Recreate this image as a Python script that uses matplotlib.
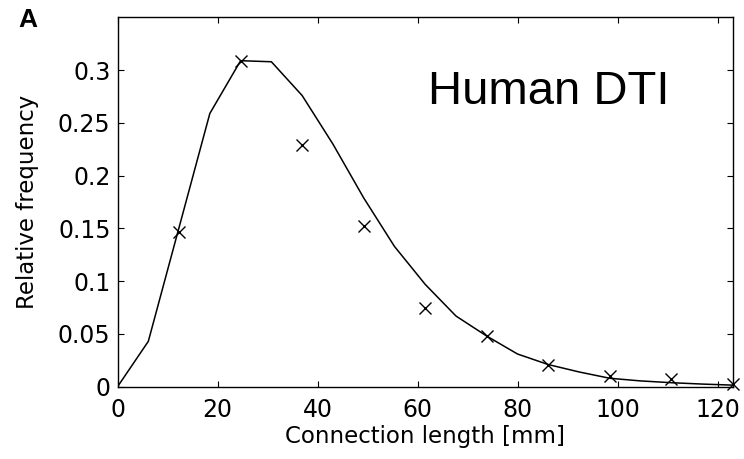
import matplotlib
matplotlib.use("Agg")
import matplotlib.pyplot as plt
from matplotlib.ticker import FuncFormatter

# model curve (line) and measured histogram (crosses)
curve_x = [0, 6.15, 12.3, 18.45, 24.6, 30.75, 36.9, 43.05, 49.2, 55.35, 61.5,
           67.65, 73.8, 79.95, 86.1, 92.25, 98.4, 104.55, 110.7, 116.85, 123.0]
curve_y = [0.0, 0.043, 0.151, 0.259, 0.309, 0.308, 0.276, 0.230, 0.179, 0.133, 0.097,
           0.067, 0.048, 0.031, 0.021, 0.014, 0.008, 0.0055, 0.0038, 0.0025, 0.0015]

data_x = [12.3, 24.6, 36.9, 49.2, 61.5, 73.8, 86.1, 98.4, 110.7, 123.0]
data_y = [0.147, 0.309, 0.229, 0.152, 0.0745, 0.0485, 0.0205, 0.0102, 0.0073, 0.0023]

xticks = [0, 20, 40, 60, 80, 100, 120]
yticks = [0, 0.05, 0.1, 0.15, 0.2, 0.25, 0.3]

fig = plt.figure(figsize=(7.44, 4.59), dpi=100)
ax = fig.add_axes([0.158, 0.1575, 0.827, 0.8045])

ax.plot(curve_x, curve_y, color="black", lw=1.1)
ax.plot(data_x, data_y, ls="none", marker="x", ms=9, mew=1.0, color="black", clip_on=False)

ax.set_xlim(0, 123)
ax.set_ylim(0, 0.35)
ax.set_xticks(xticks)
ax.set_yticks(yticks)
ax.yaxis.set_major_formatter(FuncFormatter(lambda v, p: "%g" % v))
ax.tick_params(direction="in", top=True, right=True, length=4.5, width=0.8, labelsize=17)
ax.tick_params(axis="x", pad=8)
ax.tick_params(axis="y", pad=5)
for s in ax.spines.values():
    s.set_linewidth(1.0)

ax.set_xlabel("Connection length [mm]", fontsize=16.5, labelpad=2)
ax.set_ylabel("Relative frequency", fontsize=16.5, labelpad=14)

ax.text(0.5046, 0.765, "Human DTI", transform=ax.transAxes, family="Liberation Sans",
        fontsize=34, va="baseline", ha="left")
fig.text(28 / 744, 1 - 20 / 459, "A", family="Liberation Sans", fontweight="bold",
         fontsize=19, ha="center", va="center")

fig.savefig("out.png", dpi=100)
